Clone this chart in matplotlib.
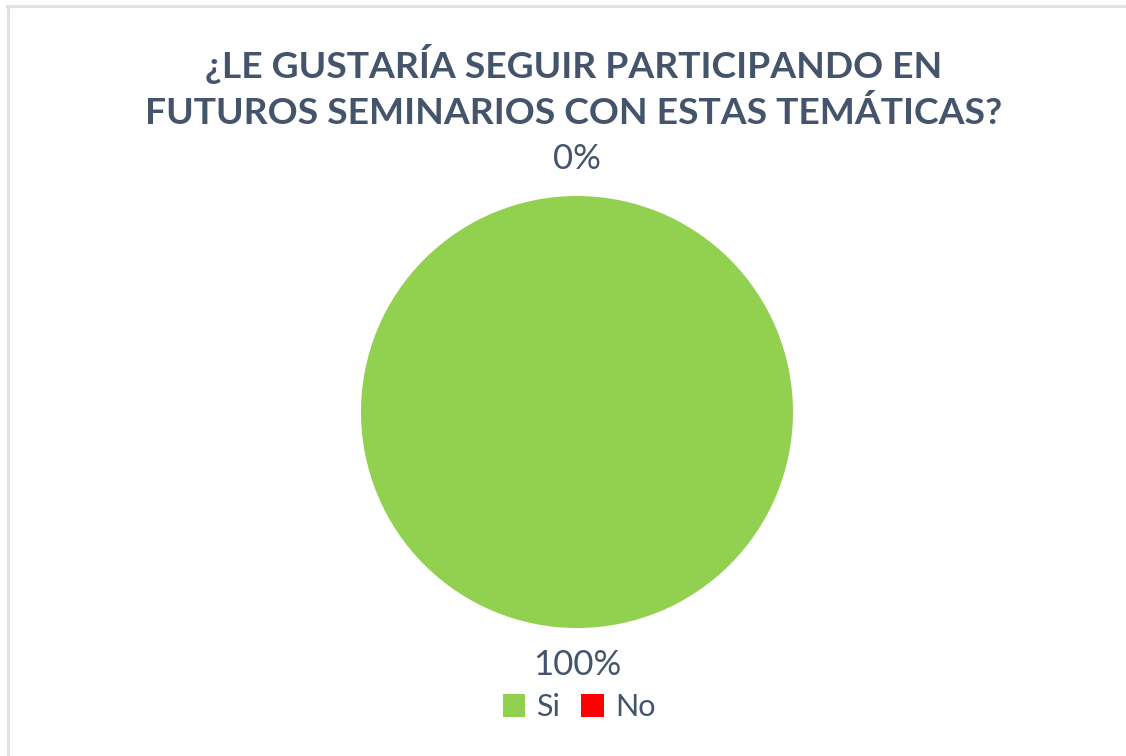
import matplotlib
matplotlib.use("Agg")
import matplotlib.pyplot as plt
from matplotlib.patches import Patch
from matplotlib.lines import Line2D

title = "¿LE GUSTARÍA SEGUIR PARTICIPANDO EN\nFUTUROS SEMINARIOS CON ESTAS TEMÁTICAS?"
categories = ["Si", "No"]
values = [100, 0]
pct_labels = ["100%", "0%"]
colors = ["#92D050", "#FF0000"]

text_color = "#44546A"
plt.rcParams['font.family'] = ['Lato', 'DejaVu Sans']

fig = plt.figure(figsize=(11.26, 7.56), dpi=100)

# light frame on top and left edge
fig.add_artist(Line2D([7.5 / 1126, 1.0], [1 - 6 / 756, 1 - 6 / 756], color="#DDE2EA", lw=2.2))
fig.add_artist(Line2D([8 / 1126, 8 / 1126], [0, 1 - 6 / 756], color="#DDE2EA", lw=2.2))

fig.text(574 / 1126, 1 - 87 / 756, title, ha="center", va="center", fontsize=26.8,
         fontweight="bold", color=text_color, linespacing=1.45)

# pie: centre ~ (577, 412) px, radius ~216 px
r = 216
ax = fig.add_axes([(577 - r) / 1126, 1 - (412 + r) / 756, 2 * r / 1126, 2 * r / 756])
wedges, texts = ax.pie(values, labels=pct_labels, colors=colors, startangle=90,
                       counterclock=False, labeldistance=1.17,
                       textprops=dict(fontsize=25, color=text_color))
for t in texts:
    t.set_horizontalalignment("center")
ax.set_aspect("equal")
ax.set_xlim(-1, 1)
ax.set_ylim(-1, 1)

handles = [Patch(facecolor=c, label=l) for c, l in zip(colors, categories)]
fig.legend(handles=handles, loc="center", bbox_to_anchor=(579 / 1126, 1 - 707 / 756),
           ncol=2, frameon=False, fontsize=22, handlelength=0.75, handleheight=0.75,
           handletextpad=0.35, columnspacing=0.7, labelcolor=text_color)

fig.savefig("out.png", dpi=100, facecolor="white")
